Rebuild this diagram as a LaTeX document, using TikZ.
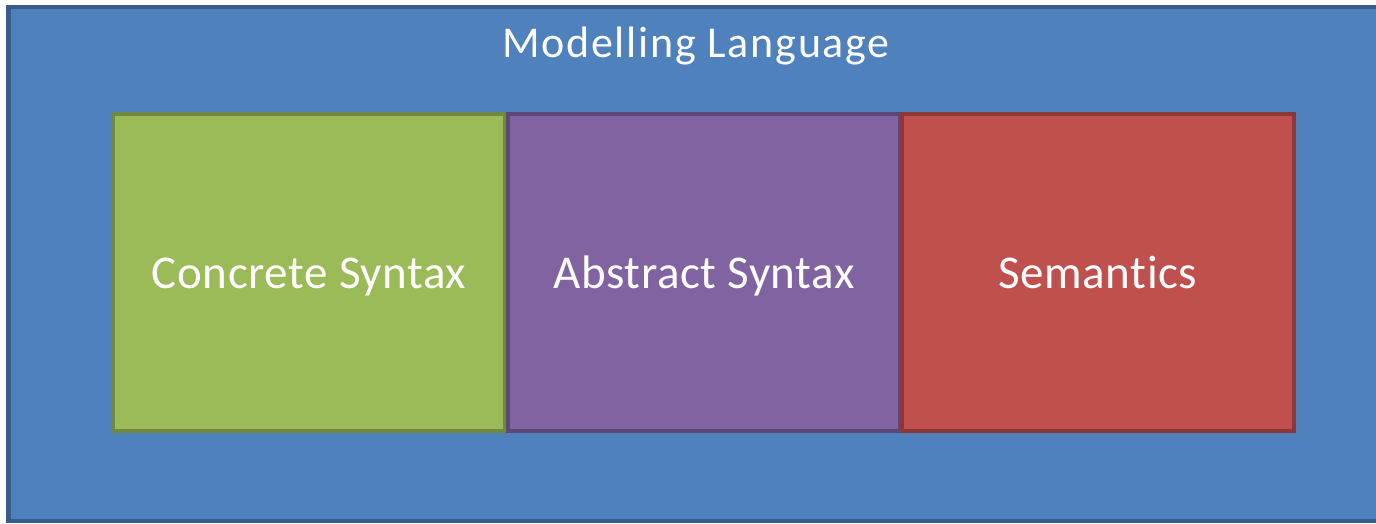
\documentclass[tikz,border=0pt]{standalone}
\usepackage{fontspec}
\setmainfont[Ligatures=NoCommon]{Carlito}
\newfontfamily\titlefont[Ligatures=NoCommon, LetterSpace=4]{Carlito}
\newfontfamily\boxfont[Ligatures=NoCommon, LetterSpace=1.2]{Carlito}
\definecolor{bluefill}{HTML}{4F81BD}
\definecolor{blueline}{HTML}{385D8A}
\definecolor{greenfill}{HTML}{9BBB59}
\definecolor{greenline}{HTML}{71893F}
\definecolor{purplefill}{HTML}{8064A2}
\definecolor{purpleline}{HTML}{5C4776}
\definecolor{redfill}{HTML}{C0504D}
\definecolor{redline}{HTML}{8C3836}
\tikzset{
  partbox/.style={rectangle, line width=4pt, inner sep=0pt, minimum width=392pt, minimum height=317pt,
    text=white, font=\boxfont\fontsize{47}{47}\selectfont, text height=31pt, text depth=0pt},
}
\begin{document}
\begin{tikzpicture}[x=1pt,y=-1pt]
\useasboundingbox (0,0) rectangle (1376,523);
\node[rectangle, draw=blueline, fill=bluefill, line width=4.5pt, inner sep=0pt, minimum width=1372pt, minimum height=514pt] (outer) at (694.5,264) {};
\node[text=white, font=\titlefont\fontsize{44}{44}\selectfont, anchor=base, inner sep=0pt] (title) at (696,57.5) {Modelling Language};
\node[partbox, draw=greenline, fill=greenfill] (concrete) at (309,272.5) {Concrete Syntax};
\node[partbox, draw=purpleline, fill=purplefill] (abstract) at (704,272.5) {Abstract Syntax};
\node[partbox, draw=redline, fill=redfill] (semantics) at (1098,272.5) {Semantics};
\end{tikzpicture}
\end{document}
